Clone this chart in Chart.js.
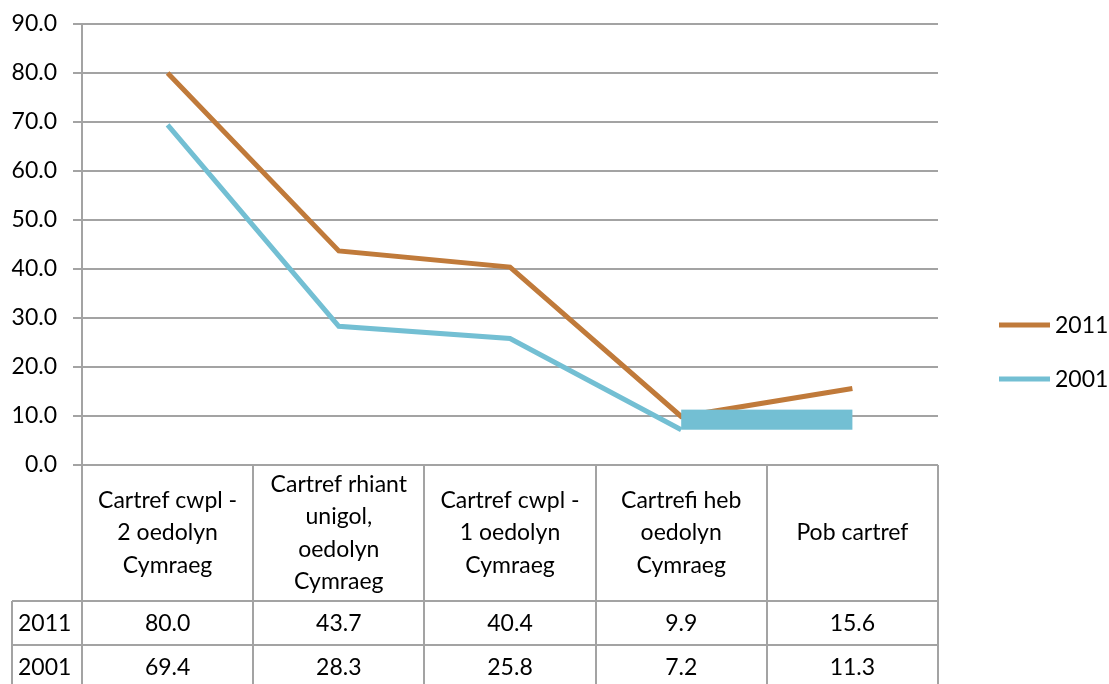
<!DOCTYPE html>
<html><head><meta charset="utf-8">
<script src="https://cdn.jsdelivr.net/npm/chart.js@4/dist/chart.umd.min.js"></script>
<style>html,body{margin:0;padding:0;background:#fff;overflow:hidden}#wrap{width:1109px;height:684px;position:relative}</style>
</head><body><div id="wrap"><canvas id="c" width="1109" height="684"></canvas></div>
<script>
const categories = [
  ["Cartref cwpl -", "2 oedolyn", "Cymraeg"],
  ["Cartref rhiant", "unigol,", "oedolyn", "Cymraeg"],
  ["Cartref cwpl -", "1 oedolyn", "Cymraeg"],
  ["Cartrefi heb", "oedolyn", "Cymraeg"],
  ["Pob cartref"]
];
const seriesNames = ["2011", "2001"];
const values2011 = [80.0, 43.7, 40.4, 9.9, 15.6];
const values2001 = [69.4, 28.3, 25.8, 7.2, 11.3];
const yMin = 0, yMax = 90, yStep = 10;

const FONT = "Lato, 'Open Sans', sans-serif";
const FS = 23;
const GRID = "#a3a3a3";
const C2011 = "#c07a3a";
const C2001 = "#73bfd3";

const tablePlugin = {
  id: "dataTable",
  afterDraw(chart) {
    const ctx = chart.ctx;
    const x = chart.scales.x;
    const area = chart.chartArea;
    const n = categories.length;
    const half = (x.getPixelForValue(1) - x.getPixelForValue(0)) / 2;
    const left = x.getPixelForValue(0) - half;
    const right = x.getPixelForValue(n - 1) + half;
    const top = area.bottom;
    const headBottom = top + 136;
    const rowH = 44;
    const tableLeft = 12;
    const bottom = chart.height + 2;
    ctx.save();
    ctx.strokeStyle = GRID;
    ctx.lineWidth = 2;
    ctx.beginPath();
    for (let i = 0; i <= n; i++) {
      const cx = Math.round(left + i * 2 * half);
      ctx.moveTo(cx, top); ctx.lineTo(cx, bottom);
    }
    ctx.moveTo(tableLeft, headBottom); ctx.lineTo(right, headBottom);
    ctx.moveTo(tableLeft, headBottom + rowH); ctx.lineTo(right, headBottom + rowH);
    ctx.moveTo(tableLeft, headBottom); ctx.lineTo(tableLeft, bottom);
    ctx.stroke();

    ctx.fillStyle = "#000";
    ctx.font = FS + "px " + FONT;
    ctx.textAlign = "center";
    ctx.textBaseline = "middle";
    const headMid = (top + headBottom) / 2;
    const lh = 32.5;
    categories.forEach((lines, i) => {
      const cx = x.getPixelForValue(i);
      const y0 = headMid - (lines.length - 1) * lh / 2;
      lines.forEach((t, j) => ctx.fillText(t, cx, y0 + j * lh));
    });
    const rows = [values2011, values2001];
    rows.forEach((vals, r) => {
      const cy = headBottom + rowH * r + rowH / 2 + 1;
      ctx.textAlign = "left";
      ctx.fillText(seriesNames[r], 18, cy);
      ctx.textAlign = "center";
      vals.forEach((v, i) => ctx.fillText(v.toFixed(1), x.getPixelForValue(i), cy));
    });
    ctx.restore();
  }
};

const boxPlugin = {
  id: "box2001",
  afterDatasetsDraw(chart) {
    const meta = chart.getDatasetMeta(1);
    const p3 = meta.data[3], p4 = meta.data[4];
    const ctx = chart.ctx;
    ctx.save();
    ctx.fillStyle = C2001;
    ctx.fillRect(p3.x, p4.y, p4.x - p3.x, p3.y - p4.y);
    ctx.restore();
  }
};

const legendPlugin = {
  id: "sideLegend",
  afterDraw(chart) {
    const ctx = chart.ctx;
    ctx.save();
    ctx.font = FS + "px " + FONT;
    ctx.textBaseline = "middle";
    ctx.textAlign = "left";
    const ys = [325, 379];
    chart.data.datasets.forEach((ds, i) => {
      ctx.strokeStyle = ds.borderColor;
      ctx.lineWidth = 5;
      ctx.beginPath();
      ctx.moveTo(999, ys[i]); ctx.lineTo(1050, ys[i]);
      ctx.stroke();
      ctx.fillStyle = "#000";
      ctx.fillText(ds.label, 1055, ys[i] + 1);
    });
    ctx.restore();
  }
};

new Chart(document.getElementById("c"), {
  type: "line",
  data: {
    labels: categories,
    datasets: [
      { label: seriesNames[0], data: values2011, borderColor: C2011, backgroundColor: C2011, borderWidth: 5, pointRadius: 0, tension: 0, fill: false },
      { label: seriesNames[1], data: values2001, borderColor: C2001, backgroundColor: C2001, borderWidth: 5, pointRadius: 0, tension: 0, fill: false,
        segment: { borderColor: c => c.p0DataIndex === 3 ? "rgba(0,0,0,0)" : undefined } }
    ]
  },
  options: {
    responsive: false,
    animation: false,
    devicePixelRatio: 1,
    layout: { padding: { left: 0, right: 171, top: 24, bottom: 0 } },
    plugins: { legend: { display: false }, tooltip: { enabled: false } },
    scales: {
      x: {
        type: "category",
        offset: true,
        grid: { display: false },
        border: { display: false },
        ticks: { display: false },
        afterFit(s) { s.height = 219; s.paddingLeft = 0; s.paddingRight = 0; }
      },
      y: {
        min: yMin, max: yMax,
        ticks: { stepSize: yStep, color: "#000", font: { family: FONT, size: FS }, padding: 16, callback: v => Number(v).toFixed(1) },
        grid: { color: GRID, lineWidth: 2, tickLength: 9 },
        border: { display: true, color: GRID, width: 2 },
        afterFit(s) { s.width = 82; s.paddingTop = 0; s.paddingBottom = 0; }
      }
    }
  },
  plugins: [boxPlugin, tablePlugin, legendPlugin]
});
</script>
</body></html>
